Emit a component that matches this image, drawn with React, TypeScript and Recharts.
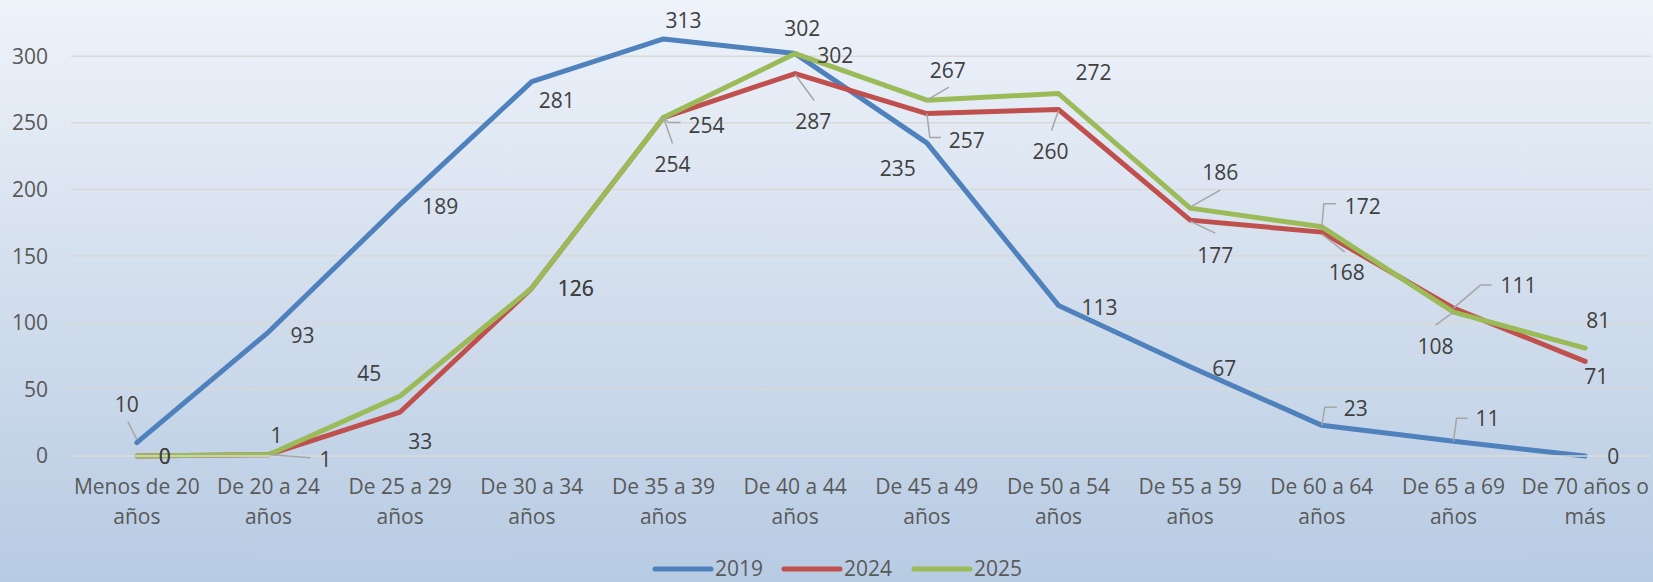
import React from "react";
import { LineChart, Line, XAxis, YAxis, CartesianGrid, Legend, LabelList } from "recharts";

const categories = [
  "Menos de 20 años", "De 20 a 24 años", "De 25 a 29 años", "De 30 a 34 años",
  "De 35 a 39 años", "De 40 a 44 años", "De 45 a 49 años", "De 50 a 54 años",
  "De 55 a 59 años", "De 60 a 64 años", "De 65 a 69 años", "De 70 años o más",
];
const values2019 = [10, 93, 189, 281, 313, 302, 235, 113, 67, 23, 11, 0];
const values2024 = [0, 1, 33, 126, 254, 287, 257, 260, 177, 168, 111, 71];
const values2025 = [0, 1, 45, 126, 254, 302, 267, 272, 186, 172, 108, 81];
const yTicks = [0, 50, 100, 150, 200, 250, 300, 350];

const data = categories.map((c, i) => ({
  cat: c,
  y2019: values2019[i],
  y2024: values2024[i],
  y2025: values2025[i],
}));

const FONT = "'Open Sans', 'DejaVu Sans', sans-serif";
const LABEL_COLOR = "#404040";
const AXIS_COLOR = "#595959";
const LEADER = "#a6a6a6";
const C2019 = "#4f81bd";
const C2024 = "#c0504d";
const C2025 = "#9bbb59";

// label offsets (dx, dy) relative to the point, and optional leader polylines
const off2019: number[][] = [[-10, -39], [34, 3], [40, 2], [25, 18], [20, -19], [7, -26], [-29, 25], [41, 2], [34, 1], [34, -17], [34, -23], [28, 0]];
const lead2019: (number[][] | null)[] = [[[0, -3], [-9, -21]], null, null, null, null, null, null, null, null, [[0, 0], [3, -18], [15, -18]], [[0, 0], [3, -23], [14, -23]], null];
const off2024: number[][] = [[28, 0], [57, 4], [20, 29], [44, 0], [9, 46], [18, 47], [40, 26], [-8, 41], [25, 35], [25, 40], [65, -23], [11, 15]];
const lead2024: (number[][] | null)[] = [null, [[2, 0], [42, 3]], null, null, [[0, 0], [9, 26]], [[0, 1], [19, 27]], [[0, 0], [3, 24], [14, 24]], [[0, 1], [-7, 21]], [[0, 1], [25, 13]], [[0, 2], [23, 20]], [[0, 0], [27, -23], [38, -23]], null];
const off2025: number[][] = [[28, 0], [8, -20], [-31, -23], [44, 0], [43, 7], [40, 1], [21, -30], [35, -22], [30, -36], [41, -21], [-18, 34], [13, -28]];
const lead2025: (number[][] | null)[] = [null, null, null, null, [[0, 0], [5, 5], [17, 5]], null, [[0, 0], [22, -13]], null, [[0, -1], [30, -18]], [[0, 0], [2, -23], [14, -23]], [[0, 0], [-18, 13]], null];

const makeLabel = (offs: number[][], leads: (number[][] | null)[]) => (props: any) => {
  const { x, y, index, value } = props;
  const o = offs[index] || [0, -15];
  const l = leads[index];
  return (
    <g>
      {l ? (
        <polyline
          points={l.map((p) => `${x + p[0]},${y + p[1]}`).join(" ")}
          fill="none"
          stroke={LEADER}
          strokeWidth={1.5}
        />
      ) : null}
      <text
        x={x + o[0]}
        y={y + o[1]}
        textAnchor="middle"
        dominantBaseline="central"
        fontFamily={FONT}
        fontSize={21}
        fill={LABEL_COLOR}
      >
        {value}
      </text>
    </g>
  );
};

const CategoryTick = (props: any) => {
  const { x, y, payload } = props;
  const words = String(payload.value).split(" ");
  const last = words.pop();
  const first = words.join(" ");
  return (
    <g>
      <text x={x} y={y + 38} textAnchor="middle" fontFamily={FONT} fontSize={21} fill={AXIS_COLOR}>
        {first}
      </text>
      <text x={x} y={y + 68} textAnchor="middle" fontFamily={FONT} fontSize={21} fill={AXIS_COLOR}>
        {last}
      </text>
    </g>
  );
};

const legendItems = [
  { name: "2019", color: C2019, x: 655 },
  { name: "2024", color: C2024, x: 784 },
  { name: "2025", color: C2025, x: 914 },
];

const renderLegend = () => (
  <svg width={1653} height={31} style={{ display: "block" }}>
    {legendItems.map((it) => (
      <g key={it.name}>
        <line x1={it.x} y1={18} x2={it.x + 56} y2={18} stroke={it.color} strokeWidth={5} strokeLinecap="round" />
        <text x={it.x + 60} y={17} dominantBaseline="central" fontFamily={FONT} fontSize={21} fill={AXIS_COLOR}>
          {it.name}
        </text>
      </g>
    ))}
  </svg>
);

export default function App() {
  return (
    <div
      style={{
        position: "absolute",
        left: 0,
        top: 0,
        width: 1653,
        height: 582,
        background: "linear-gradient(to bottom, #eef3fa 0%, #d5e0ee 45%, #b7cbe3 100%)",
        overflow: "hidden",
      }}
    >
      <LineChart width={1653} height={582} data={data} margin={{ top: -10.4, right: 2, bottom: 0, left: 0 }}>
        <CartesianGrid vertical={false} stroke="#d9d9d9" strokeWidth={1.5} />
        <XAxis
          dataKey="cat"
          scale="band"
          interval={0}
          height={95}
          tickLine={false}
          tickSize={0}
          tickMargin={0}
          axisLine={{ stroke: "#d9d9d9", strokeWidth: 1.5 }}
          tick={<CategoryTick />}
        />
        <YAxis
          domain={[0, 350]}
          ticks={yTicks}
          width={71}
          axisLine={false}
          tickLine={false}
          tickSize={0}
          tickMargin={23}
          tick={{ fontFamily: FONT, fontSize: 21, fill: AXIS_COLOR }}
        />
        <Legend
          verticalAlign="bottom"
          width={1653}
          height={31}
          wrapperStyle={{ left: 0, top: 551, bottom: "auto" }}
          content={renderLegend}
        />
        <Line type="linear" dataKey="y2019" name="2019" stroke={C2019} strokeWidth={5} strokeLinecap="round" strokeLinejoin="round" dot={false} isAnimationActive={false}>
          <LabelList dataKey="y2019" content={makeLabel(off2019, lead2019)} />
        </Line>
        <Line type="linear" dataKey="y2024" name="2024" stroke={C2024} strokeWidth={5} strokeLinecap="round" strokeLinejoin="round" dot={false} isAnimationActive={false}>
          <LabelList dataKey="y2024" content={makeLabel(off2024, lead2024)} />
        </Line>
        <Line type="linear" dataKey="y2025" name="2025" stroke={C2025} strokeWidth={5} strokeLinecap="round" strokeLinejoin="round" dot={false} isAnimationActive={false}>
          <LabelList dataKey="y2025" content={makeLabel(off2025, lead2025)} />
        </Line>
      </LineChart>
    </div>
  );
}
